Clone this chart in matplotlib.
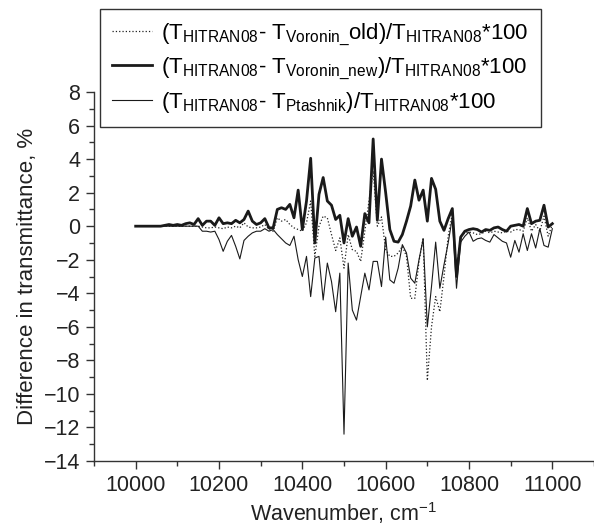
import numpy as np
import matplotlib
matplotlib.use("Agg")
import matplotlib.pyplot as plt
from matplotlib.ticker import MultipleLocator

plt.rcParams['font.family'] = ['Liberation Sans', 'DejaVu Sans']
plt.rcParams['mathtext.fontset'] = 'custom'
plt.rcParams['mathtext.rm'] = 'Liberation Sans'
plt.rcParams['mathtext.default'] = 'regular'

# wavenumber grid, cm-1 (10 cm-1 step)
wavenumber = np.arange(10000, 11001, 10)

# (T_HITRAN08 - T_Voronin_old)/T_HITRAN08*100, dotted
voronin_old = [
    0, 0, 0, 0, 0, 0, 0, 0, 0, 0,
    0, 0, 0, 0, 0, 0, -0.05, -0.1, -0.1, -0.05,
    -0.1, -0.15, -0.05, -0.1, 0.0, -0.1, 0.2, -0.05, -0.1, -0.1,
    -0.05, 0.1, -0.2, -0.3, 0.5, 0.3, 0.4, 0.1, -0.1, -0.2,
    -0.3, 0.2, 1.5, -1.8, 0.0, 0.6, 0.5, -0.5, -1.45, -0.7,
    -2.5, -0.5, -1.4, -1.5, -2.1, -0.3, 1.5, 3.3, 0.0, 0.55,
    -1.4, -1.8, -1.8, -1.6, -1.2, -1.8, -4.3, -4.3, -2.1, -0.7,
    -9.2, -6.0, -4.2, -5.1, -3.0, -0.6, 0.75, -2.6, -0.6, -0.4,
    -0.35, -0.4, -0.5, -0.45, -0.3, -0.4, -0.3, -0.35, -0.4, -0.3,
    -0.35, -0.2, -0.2, -0.3, 0.5, -0.3, 0.1, -0.3, 0.6, -0.6,
    0.1,
]

# (T_HITRAN08 - T_Voronin_new)/T_HITRAN08*100, thick solid
voronin_new = [
    0, 0, 0, 0, 0, 0, 0, 0.05, 0.1, 0.05,
    0.1, 0.05, 0.15, 0.2, 0.1, 0.45, 0.05, 0.3, 0.3, 0.05,
    0.5, 0.15, 0.2, 0.15, 0.35, 0.2, 0.4, 0.9, 0.3, 0.1,
    0.2, 0.45, -0.1, -0.1, 1.0, 1.1, 1.0, 1.3, 0.5, 2.15,
    -0.2, 1.5, 4.05, -1.0, 1.9, 2.9, 1.5, 1.25, 0.4, 0.65,
    -1.0, 0.45, -0.6, -0.05, -1.2, 0.75, 0.2, 5.2, 0.35, 4.0,
    2.0, -0.2, -0.9, -0.95, -0.5, 0.3, 1.2, 2.75, 1.55, 2.15,
    0.3, 2.85, 2.2, 0.3, -0.25, 0.45, 1.05, -3.0, -0.65, -0.3,
    -0.2, -0.15, -0.2, -0.35, -0.2, -0.25, -0.1, -0.05, -0.2, -0.3,
    0.0, 0.05, 0.1, 0.0, 1.05, 0.15, 0.3, 0.35, 1.25, -0.05,
    0.15,
]

# (T_HITRAN08 - T_Ptashnik)/T_HITRAN08*100, thin solid
ptashnik = [
    0, 0, 0, 0, 0, 0, 0, 0, 0, 0,
    0, 0, 0, 0, 0, 0, -0.3, -0.3, -0.35, -0.3,
    -0.8, -1.5, -0.9, -0.55, -1.2, -1.95, -0.85, -0.6, -0.4, -0.3,
    -0.3, -0.15, -0.3, -0.2, -0.5, -0.75, -1.0, -1.15, -0.6, -2.0,
    -3.0, -1.8, -4.2, -1.9, -1.8, -4.4, -2.2, -3.3, -5.1, -2.8,
    -12.4, -2.2, -5.0, -5.6, -4.2, -2.8, -3.8, -2.1, -2.1, -3.6,
    -0.65, -3.2, -3.4, -2.5, -1.1, -1.6, -3.1, -3.4, -2.0, -0.75,
    -6.0, -3.6, -0.95, -3.7, -2.3, -1.0, 0.5, -3.7, -0.95, -0.6,
    -0.35, -0.9, -0.75, -0.7, -0.85, -0.95, -0.5, -0.7, -0.9, -1.0,
    -1.85, -0.85, -1.55, -0.45, -1.45, -0.45, -1.3, -0.15, -1.15, -1.25,
    -0.15,
]

labels = [
    r'(T$_{HITRAN08}$- T$_{Voronin\_}$old)/T$_{HITRAN08}$*100',
    r'(T$_{HITRAN08}$- T$_{Voronin\_new}$)/T$_{HITRAN08}$*100',
    r'(T$_{HITRAN08}$- T$_{Ptashnik}$)/T$_{HITRAN08}$*100',
]

fig = plt.figure(figsize=(5.94, 5.29), dpi=100)
ax = fig.add_axes([94 / 594, 1 - 461 / 529, 1 - 94 / 594, (461 - 92) / 529])

ax.plot(wavenumber, voronin_old, ':', color='#222222', lw=0.9, label=labels[0])
ax.plot(wavenumber, voronin_new, '-', color='#1a1a1a', lw=2.0, label=labels[1])
ax.plot(wavenumber, ptashnik, '-', color='#1a1a1a', lw=0.8, label=labels[2])

ax.set_xlim(9900, 11100)
ax.set_ylim(-14, 8)
ax.xaxis.set_major_locator(MultipleLocator(200))
ax.xaxis.set_minor_locator(MultipleLocator(100))
ax.yaxis.set_major_locator(MultipleLocator(2))
ax.yaxis.set_minor_locator(MultipleLocator(1))
for s in ('top', 'right'):
    ax.spines[s].set_visible(False)
for s in ('left', 'bottom'):
    ax.spines[s].set_color('#333333')
    ax.spines[s].set_linewidth(1.0)
ax.tick_params(which='major', direction='out', length=6, width=1.0, color='#333333',
               labelsize=15.5, labelcolor='#222222', pad=4)
ax.tick_params(which='minor', direction='out', length=3.5, width=1.0, color='#333333')

ax.set_xlabel(r'Wavenumber, cm$^{-1}$', fontsize=15.5, color='#222222', labelpad=3)
ax.set_ylabel('Difference in transmittance, %', fontsize=16, color='#222222', labelpad=4)

leg = fig.legend(loc='upper left', bbox_to_anchor=(100 / 594, 1 - 9 / 529),
                 bbox_transform=fig.transFigure, borderaxespad=0, fontsize=16,
                 fancybox=False, framealpha=1, edgecolor='#333333',
                 handlelength=1.8, handletextpad=0.4, borderpad=0.55, labelspacing=0.35)
leg.get_frame().set_linewidth(1.0)

fig.savefig('out.png', dpi=100)
